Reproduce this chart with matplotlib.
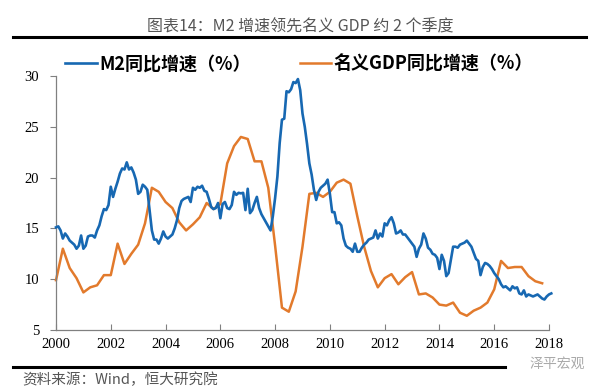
import numpy as np
import matplotlib
matplotlib.use('Agg')
import matplotlib.pyplot as plt
from matplotlib.lines import Line2D

plt.rcParams['font.family'] = ['Liberation Serif', 'Noto Sans CJK SC']
plt.rcParams['axes.unicode_minus'] = False

# M2 同比增速 (%), monthly from 2000-01
m2_yoy = [
    15.1, 15.2, 14.8, 14.0, 14.5, 14.2, 13.8, 13.6, 13.4, 13.0, 13.3, 14.3,
    13.0, 13.3, 14.2, 14.3, 14.3, 14.1, 14.8, 15.3, 16.2, 16.9, 16.8, 17.3,
    19.1, 18.1, 18.9, 19.6, 20.4, 20.9, 20.8, 21.5, 20.8, 21.0, 20.5, 19.8,
    18.4, 18.6, 19.3, 19.1, 18.8, 16.8, 14.8, 13.9, 13.9, 13.5, 14.0, 14.7,
    14.2, 14.0, 14.2, 14.4, 15.0, 15.8, 17.0, 17.7, 17.9, 18.0, 18.1, 17.6,
    19.0, 18.8, 19.1, 19.0, 19.2, 18.7, 18.6, 17.9, 17.1, 16.9, 17.0, 17.5,
    16.0, 17.4, 17.6, 17.0, 16.9, 17.3, 18.6, 18.3, 18.5, 18.45, 18.5, 16.8,
    18.9, 16.5, 16.8, 17.5, 18.1, 17.0, 16.4, 16.0, 15.6, 15.2, 14.8, 16.2,
    18.0, 20.1, 23.4, 25.7, 25.8, 28.5, 28.4, 28.7, 29.4, 29.3, 29.7, 28.6,
    26.3, 25.0, 23.3, 21.4, 20.3, 18.8, 17.8, 18.6, 19.0, 19.2, 19.4, 19.8,
    18.4, 16.6, 16.6, 15.5, 15.6, 15.3, 14.0, 13.3, 13.1, 13.0, 12.7, 13.5,
    12.7, 12.7, 13.1, 13.4, 13.6, 13.9, 14.0, 14.1, 14.8, 14.0, 14.5, 14.2,
    15.5, 15.3, 15.8, 16.1, 15.5, 14.5, 14.6, 14.8, 14.4, 14.4, 14.1, 13.8,
    13.5, 13.2, 12.2, 13.0, 13.4, 14.5, 14.0, 13.1, 12.9, 12.5, 12.4, 12.1,
    11.0, 12.4, 11.8, 10.3, 10.6, 11.9, 13.2, 13.2, 13.1, 13.4, 13.5, 13.6,
    13.8, 13.5, 13.2, 12.6, 12.0, 11.8, 10.4, 11.2, 11.6, 11.5, 11.3, 11.0,
    10.6, 10.3, 10.0, 9.5, 9.2, 9.3, 9.1, 8.9, 9.3, 9.1, 9.2, 8.6,
    8.5, 8.9, 8.3, 8.5, 8.4, 8.3, 8.4, 8.5, 8.3, 8.1, 8.0, 8.3,
    8.5, 8.6,
]

# 名义GDP同比增速 (%), quarterly from 2000
gdp_yoy = [
    9.9, 13.0, 11.1, 10.1, 8.7, 9.2, 9.4, 10.4,
    10.4, 13.5, 11.5, 12.5, 13.4, 15.5, 19.0, 18.6,
    17.6, 17.0, 15.6, 14.8, 15.4, 16.1, 17.5, 16.9,
    17.4, 21.4, 23.1, 24.0, 23.8, 21.6, 21.6, 19.0,
    13.3, 7.2, 6.8, 8.8, 13.2, 18.4, 18.5, 18.1,
    18.6, 19.5, 19.8, 19.4, 16.2, 13.2, 10.8, 9.2,
    10.1, 10.5, 9.5, 10.2, 10.7, 8.5, 8.6, 8.2,
    7.5, 7.4, 7.7, 6.7, 6.4, 6.9, 7.2, 7.7,
    9.0, 11.8, 11.1, 11.2, 11.2, 10.3, 9.8, 9.6,
]

year_ticks = list(range(2000, 2019, 2))
value_ticks = [5, 10, 15, 20, 25, 30]

m2_x = 2000 + np.arange(len(m2_yoy)) / 12
gdp_x = 2000 + np.arange(len(gdp_yoy)) / 4

blue = '#1768b2'
orange = '#e27a2c'
cjk = ['Noto Sans CJK SC', 'DejaVu Sans']

fig = plt.figure(figsize=(6, 3.92), dpi=100)
ax = fig.add_axes([56 / 600, 1 - 330 / 392, 493 / 600, 254 / 392])

l1, = ax.plot(m2_x, m2_yoy, color=blue, lw=1.9, clip_on=False, zorder=3)
l2, = ax.plot(gdp_x, gdp_yoy, color=orange, lw=1.8, clip_on=False, zorder=2)

ax.set_xlim(2000, 2018)
ax.set_ylim(5, 30)
ax.set_xticks(year_ticks)
ax.set_yticks(value_ticks)
ax.tick_params(axis='x', direction='in', length=4, width=0.8, color='#808080',
               labelsize=10.5, pad=6)
ax.tick_params(axis='y', direction='out', length=4, width=0.8, color='#808080',
               labelsize=10.5, pad=8)
for side in ['top', 'right']:
    ax.spines[side].set_visible(False)
for side in ['left', 'bottom']:
    ax.spines[side].set_color('#808080')
    ax.spines[side].set_linewidth(0.9)

ax.legend([l1, l2], ['M2同比增速（%）', '名义GDP同比增速（%）'], ncol=2,
          loc='center left', bbox_to_anchor=(65 / 600, 1 - 64 / 392),
          bbox_transform=fig.transFigure, frameon=False, borderpad=0,
          borderaxespad=0, handlelength=1.75, handletextpad=0.15,
          columnspacing=2.7, prop={'family': cjk, 'weight': 'bold', 'size': 13})

fig.text(0.5, 1 - 27 / 392, '图表14：M2 增速领先名义 GDP 约 2 个季度',
         ha='center', va='center', fontsize=11.5, color='#555555', family=cjk)
fig.add_artist(Line2D([13 / 600, 586 / 600], [1 - 37 / 392] * 2,
                      color='black', lw=2.2))
fig.add_artist(Line2D([13 / 600, 505 / 600], [1 - 367 / 392] * 2,
                      color='black', lw=2.2))
fig.text(22 / 600, 1 - 380 / 392, '资料来源：Wind，恒大研究院',
         ha='left', va='center', fontsize=10.5, color='#555555', family=cjk)
fig.text(585 / 600, 1 - 364 / 392, '泽平宏观',
         ha='right', va='center', fontsize=10, color='#aaaaaa', family=cjk)

plt.savefig('out.png', dpi=100)
